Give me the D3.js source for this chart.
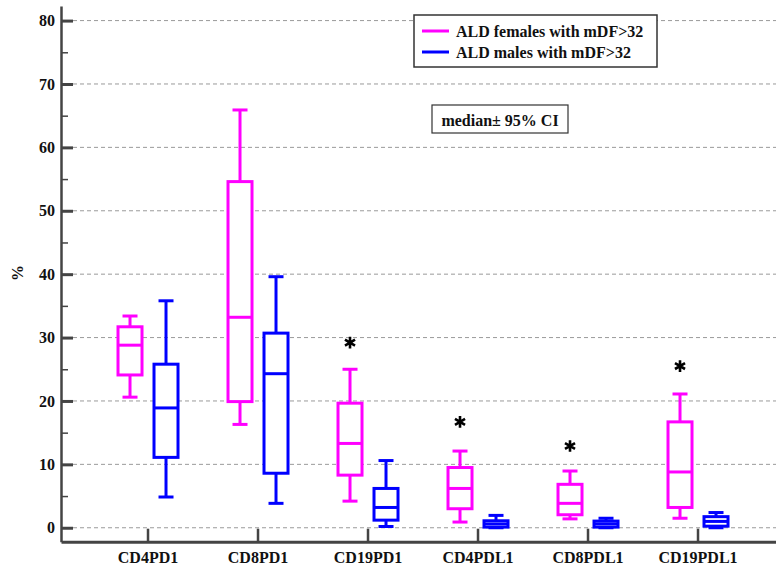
<!DOCTYPE html>
<meta charset="utf-8">
<style> /* set the CSS */

body { margin: 0; background: #fff; }

.grid line {
    stroke: #9a9a9a;
    stroke-width: 1px;
    stroke-dasharray: 4, 3;
}

.axis text, .label, .legend text, .note text {
    font-family: "Liberation Serif", "Times New Roman", serif;
    font-weight: bold;
    font-size: 16px;
    fill: #111;
}

.axis path, .axis line {
    stroke: #444;
}

.box {
    fill: none;
    stroke-width: 3px;
}

</style>
<body>

<script src="https://d3js.org/d3.v7.min.js"></script>
<script>

// categories and box values (%)
var categories = ["CD4PD1", "CD8PD1", "CD19PD1", "CD4PDL1", "CD8PDL1", "CD19PDL1"];

var femaleLow    = [20.6, 16.3, 4.2, 0.9, 1.4, 1.5];
var femaleQ1     = [24.1, 19.9, 8.3, 3.0, 2.05, 3.2];
var femaleMedian = [28.8, 33.2, 13.3, 6.2, 3.85, 8.8];
var femaleQ3     = [31.7, 54.6, 19.65, 9.5, 6.85, 16.7];
var femaleHigh   = [33.4, 65.9, 25.0, 12.1, 8.95, 21.1];

var maleLow    = [4.85, 3.85, 0.2, 0.0, 0.0, 0.0];
var maleQ1     = [11.1, 8.6, 1.2, 0.1, 0.1, 0.25];
var maleMedian = [18.9, 24.3, 3.2, 0.6, 0.6, 1.0];
var maleQ3     = [25.8, 30.7, 6.2, 1.1, 1.05, 1.75];
var maleHigh   = [35.8, 39.6, 10.6, 1.95, 1.5, 2.4];

// significance stars (value where the star sits), null = none
var stars = [null, null, 29.2, 16.7, 12.9, 25.5];

var yTicks = [0, 10, 20, 30, 40, 50, 60, 70, 80];
var yMinorTicks = [5, 15, 25, 35, 45, 55, 65, 75];

var seriesNames = ["ALD females with mDF>32", "ALD males with mDF>32"];
var seriesColors = ["#ff00ff", "#0000ff"];

// set the dimensions (note: "top" is taken by window.top, so use plotTop)
var width = 776, height = 567;
var plotLeft = 61, plotBottom = 541.7, plotTop = 6;

var svg = d3.select("body")
    .append("svg")
        .attr("width", width)
        .attr("height", height);

// set the ranges
var x = d3.scaleBand()
    .domain(categories)
    .range([plotLeft, plotLeft + 110 * (categories.length + 2 * 0.291)])
    .paddingInner(0)
    .paddingOuter(0.291);

var y = d3.scaleLinear()
    .domain([-2.2, 82.3])
    .range([plotBottom, plotTop]);

var offset = 18, boxW = 24, capW = 15;

// horizontal dashed grid lines
svg.append("g")
    .attr("class", "grid")
  .selectAll("line")
    .data(yTicks)
  .enter().append("line")
    .attr("x1", plotLeft + 12)
    .attr("x2", width)
    .attr("y1", function(d) { return y(d); })
    .attr("y2", function(d) { return y(d); });

// build the two series as box records
var series = [
    {low: femaleLow, q1: femaleQ1, med: femaleMedian, q3: femaleQ3, high: femaleHigh, dx: -offset, color: seriesColors[0]},
    {low: maleLow, q1: maleQ1, med: maleMedian, q3: maleQ3, high: maleHigh, dx: offset, color: seriesColors[1]}
];

series.forEach(function(s) {
    var g = svg.append("g")
        .attr("class", "box")
        .attr("stroke", s.color);

    var boxes = g.selectAll("g")
        .data(categories)
      .enter().append("g")
        .attr("transform", function(d) {
            return "translate(" + (x(d) + x.bandwidth() / 2 + s.dx) + ",0)";
        });

    // whiskers
    boxes.append("line")
        .attr("y1", function(d, i) { return y(s.high[i]); })
        .attr("y2", function(d, i) { return y(s.q3[i]); });
    boxes.append("line")
        .attr("y1", function(d, i) { return y(s.q1[i]); })
        .attr("y2", function(d, i) { return y(s.low[i]); });

    // caps
    boxes.append("line")
        .attr("x1", -capW / 2).attr("x2", capW / 2)
        .attr("y1", function(d, i) { return y(s.high[i]); })
        .attr("y2", function(d, i) { return y(s.high[i]); });
    boxes.append("line")
        .attr("x1", -capW / 2).attr("x2", capW / 2)
        .attr("y1", function(d, i) { return y(s.low[i]); })
        .attr("y2", function(d, i) { return y(s.low[i]); });

    // box
    boxes.append("rect")
        .attr("x", -boxW / 2)
        .attr("width", boxW)
        .attr("y", function(d, i) { return y(s.q3[i]); })
        .attr("height", function(d, i) { return y(s.q1[i]) - y(s.q3[i]); })
        .attr("fill", "#fff");

    // median
    boxes.append("line")
        .attr("x1", -boxW / 2).attr("x2", boxW / 2)
        .attr("y1", function(d, i) { return y(s.med[i]); })
        .attr("y2", function(d, i) { return y(s.med[i]); });
});

// stars above the female boxes
svg.append("g")
  .selectAll("path")
    .data(categories.filter(function(d, i) { return stars[i] != null; }))
  .enter().append("path")
    .attr("d", d3.symbol(d3.symbolAsterisk, 95))
    .attr("transform", function(d) {
        var i = categories.indexOf(d);
        return "translate(" + (x(d) + x.bandwidth() / 2 - offset) + "," + y(stars[i]) + ")";
    })
    .attr("fill", "none")
    .attr("stroke", "#000")
    .attr("stroke-width", 2.6);

// Add the Y Axis (ticks point inward)
svg.append("g")
    .attr("class", "axis")
    .attr("transform", "translate(" + plotLeft + ",0)")
    .call(d3.axisLeft(y)
        .tickValues(yTicks)
        .tickSize(-12)
        .tickPadding(6)
        .tickSizeOuter(0))
    .call(function(g) {
        g.select(".domain").attr("stroke-width", 2.5);
        g.selectAll(".tick line").attr("stroke-width", 3);
    });

// minor ticks
svg.append("g")
    .attr("class", "axis")
    .attr("transform", "translate(" + plotLeft + ",0)")
    .call(d3.axisLeft(y)
        .tickValues(yMinorTicks)
        .tickSize(-7)
        .tickFormat("")
        .tickSizeOuter(0))
    .call(function(g) {
        g.select(".domain").remove();
        g.selectAll(".tick line").attr("stroke-width", 1.5);
    });

// Add the X Axis
svg.append("g")
    .attr("class", "axis")
    .attr("transform", "translate(0," + plotBottom + ")")
    .call(d3.axisBottom(x)
        .tickSize(-13)
        .tickPadding(8)
        .tickSizeOuter(0))
    .call(function(g) {
        g.select(".domain").attr("stroke-width", 3);
        g.selectAll(".tick line").attr("stroke-width", 2.5);
        g.selectAll(".tick text").attr("y", 21).attr("dy", 0);
    });

// y axis label
svg.append("text")
    .attr("class", "label")
    .attr("transform", "translate(23,273) rotate(-90)")
    .attr("text-anchor", "middle")
    .text("%");

// legend
var legend = svg.append("g")
    .attr("class", "legend");

legend.append("rect")
    .attr("x", 414).attr("y", 15)
    .attr("width", 243).attr("height", 52)
    .attr("fill", "#fff")
    .attr("stroke", "#333")
    .attr("stroke-width", 1.5);

var items = legend.selectAll(".item")
    .data(seriesNames)
  .enter().append("g")
    .attr("class", "item")
    .attr("transform", function(d, i) { return "translate(0," + (31 + i * 21) + ")"; });

items.append("line")
    .attr("x1", 422).attr("x2", 449)
    .attr("stroke", function(d, i) { return seriesColors[i]; })
    .attr("stroke-width", 3);

items.append("text")
    .attr("x", 456)
    .attr("y", 6)
    .text(function(d) { return d; });

// note box
var note = svg.append("g")
    .attr("class", "note");

note.append("rect")
    .attr("x", 432).attr("y", 105)
    .attr("width", 136).attr("height", 28)
    .attr("fill", "#fff")
    .attr("stroke", "#333")
    .attr("stroke-width", 1.2);

note.append("text")
    .attr("x", 500)
    .attr("y", 126)
    .attr("text-anchor", "middle")
    .text("median\u00b1 95% CI");

</script>
</body>
